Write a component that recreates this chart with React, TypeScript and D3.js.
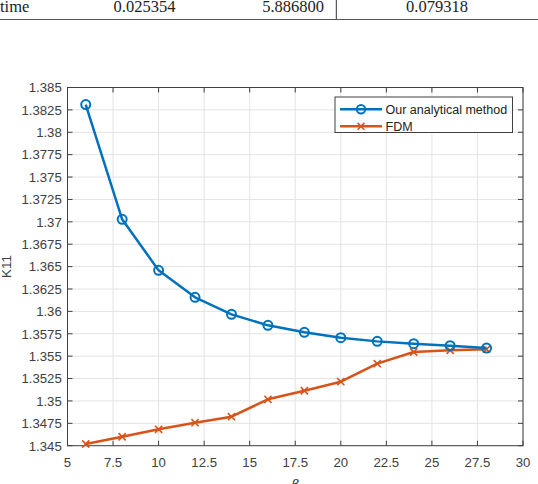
import React from "react";
import * as d3 from "d3";

// beta values shared by both series
const betas = [6, 8, 10, 12, 14, 16, 18, 20, 22, 24, 26, 28];

const analytical = [
  1.3831, 1.37028, 1.36458, 1.36157, 1.35967, 1.35844, 1.35766, 1.35706, 1.35665, 1.35639, 1.35617,
  1.3559,
];
const fdm = [
  1.34519, 1.346, 1.34683, 1.34757, 1.34824, 1.35018, 1.35114, 1.35215, 1.35416, 1.35546, 1.35565,
  1.35578,
];

const xTicks = [5, 7.5, 10, 12.5, 15, 17.5, 20, 22.5, 25, 27.5, 30];
const yTicks = [
  1.345, 1.3475, 1.35, 1.3525, 1.355, 1.3575, 1.36, 1.3625, 1.365, 1.3675, 1.37, 1.3725, 1.375,
  1.3775, 1.38, 1.3825, 1.385,
];

const seriesNames = ["Our analytical method", "FDM"];
const tableRow = ["time", "0.025354", "5.886800", "0.079318"];

const W = 538;
const H = 484;
const plot = { left: 67.5, right: 523, top: 87.5, bottom: 445.7 };

const BLUE = "#0072BD";
const ORANGE = "#D95319";
const AXIS = "#404040";
const GRID = "#e3e3e3";
const SANS = "Arial, 'Liberation Sans', Helvetica, sans-serif";

export default function App() {
  const x = d3.scaleLinear().domain([5, 30]).range([plot.left, plot.right]);
  const y = d3.scaleLinear().domain([1.345, 1.385]).range([plot.bottom, plot.top]);

  const line = d3
    .line<number>()
    .x((_, i) => x(betas[i]))
    .y((d) => y(d));

  const tick = 5;
  const fmt = (v: number) => String(Number(v.toFixed(4)));

  const crossMark = (cx: number, cy: number, s: number, key: string | number) => (
    <path
      key={key}
      d={`M${cx - s},${cy - s}L${cx + s},${cy + s}M${cx - s},${cy + s}L${cx + s},${cy - s}`}
      stroke={ORANGE}
      strokeWidth={1.6}
      fill="none"
    />
  );

  const legend = { x: 335, y: 97, w: 177.5, h: 35.5 };

  return (
    <svg
      width={W}
      height={H}
      style={{ position: "absolute", left: 0, top: 0, background: "#fff" }}
      xmlns="http://www.w3.org/2000/svg"
    >
      <rect width={W} height={H} fill="#fff" />

      {/* table fragment at the top */}
      <g fontFamily="'Liberation Serif', 'DejaVu Serif', serif" fontSize={16.5} fill="#222">
        <text x={0} y={12.3}>
          {tableRow[0]}
        </text>
        <text x={144.5} y={12.3} textAnchor="middle">
          {tableRow[1]}
        </text>
        <text x={324} y={12.3} textAnchor="end">
          {tableRow[2]}
        </text>
        <text x={437} y={12.3} textAnchor="middle">
          {tableRow[3]}
        </text>
      </g>
      <line x1={336.3} x2={336.3} y1={0} y2={19.5} stroke="#333" strokeWidth={1} />
      <line x1={0} x2={W} y1={19.5} y2={19.5} stroke="#555" strokeWidth={1.2} />

      {/* grid */}
      <g stroke={GRID} strokeWidth={1}>
        {xTicks.map((t) => (
          <line key={`gx${t}`} x1={x(t)} x2={x(t)} y1={plot.top} y2={plot.bottom} />
        ))}
        {yTicks.map((t) => (
          <line key={`gy${t}`} x1={plot.left} x2={plot.right} y1={y(t)} y2={y(t)} />
        ))}
      </g>

      {/* axes box with inward ticks */}
      <g stroke={AXIS} strokeWidth={1}>
        <rect
          x={plot.left}
          y={plot.top}
          width={plot.right - plot.left}
          height={plot.bottom - plot.top}
          fill="none"
        />
        {xTicks.map((t) => (
          <g key={`tx${t}`}>
            <line x1={x(t)} x2={x(t)} y1={plot.bottom} y2={plot.bottom - tick} />
            <line x1={x(t)} x2={x(t)} y1={plot.top} y2={plot.top + tick} />
          </g>
        ))}
        {yTicks.map((t) => (
          <g key={`ty${t}`}>
            <line x1={plot.left} x2={plot.left + tick} y1={y(t)} y2={y(t)} />
            <line x1={plot.right} x2={plot.right - tick} y1={y(t)} y2={y(t)} />
          </g>
        ))}
      </g>

      {/* tick labels */}
      <g fontFamily={SANS} fontSize={13.2} fill={AXIS}>
        {xTicks.map((t) => (
          <text key={`lx${t}`} x={x(t)} y={466.5} textAnchor="middle">
            {fmt(t)}
          </text>
        ))}
        {yTicks.map((t) => (
          <text key={`ly${t}`} x={61.8} y={y(t) + 4.8} textAnchor="end">
            {fmt(t)}
          </text>
        ))}
      </g>

      {/* axis labels */}
      <text
        transform={`translate(10.5,${(plot.top + plot.bottom) / 2}) rotate(-90)`}
        textAnchor="middle"
        fontFamily={SANS}
        fontSize={13.5}
        fill={AXIS}
      >
        K11
      </text>
      <text
        x={x(17.5)}
        y={490}
        textAnchor="middle"
        fontFamily="'DejaVu Serif', serif"
        fontStyle="italic"
        fontSize={14}
        fill={AXIS}
      >
        β
      </text>

      {/* series */}
      <path d={line(fdm) ?? ""} fill="none" stroke={ORANGE} strokeWidth={2.5} strokeLinejoin="round" />
      {fdm.map((v, i) => crossMark(x(betas[i]), y(v), 3.6, `f${i}`))}

      <path
        d={line(analytical) ?? ""}
        fill="none"
        stroke={BLUE}
        strokeWidth={2.5}
        strokeLinejoin="round"
      />
      {analytical.map((v, i) => (
        <circle key={`a${i}`} cx={x(betas[i])} cy={y(v)} r={4.5} fill="none" stroke={BLUE} strokeWidth={2} />
      ))}

      {/* legend */}
      <rect
        x={legend.x}
        y={legend.y}
        width={legend.w}
        height={legend.h}
        fill="#fff"
        stroke={AXIS}
        strokeWidth={1}
      />
      <g>
        <line x1={340} x2={382} y1={109.3} y2={109.3} stroke={BLUE} strokeWidth={2.5} />
        <circle cx={361} cy={109.3} r={4.2} fill="none" stroke={BLUE} strokeWidth={2} />
        <line x1={340} x2={382} y1={126.3} y2={126.3} stroke={ORANGE} strokeWidth={2.5} />
        {crossMark(361, 126.3, 3.4, "lg")}
      </g>
      <g fontFamily={SANS} fontSize={12.5} fill="#222">
        <text x={385.5} y={113.5}>
          {seriesNames[0]}
        </text>
        <text x={385.5} y={130.5}>
          {seriesNames[1]}
        </text>
      </g>
    </svg>
  );
}
